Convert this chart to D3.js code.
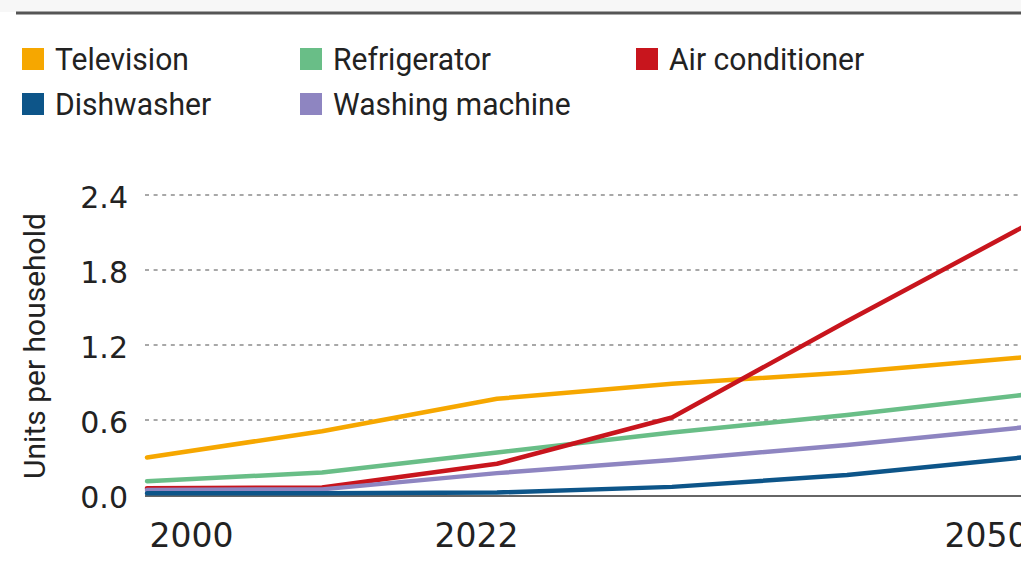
<!DOCTYPE html>
<html>
<head>
<meta charset="utf-8">
<script src="https://cdn.jsdelivr.net/npm/d3@7"></script>
<style>
  body { margin: 0; background: #fff; }
  svg { display: block; }
</style>
</head>
<body>
<svg id="chart"></svg>
<script>
// Data
var years = ["2000", "2010", "2022", "2030", "2040", "2050"];
var shownYears = ["2000", "2022", "2050"];
var yTicks = [0, 0.6, 1.2, 1.8, 2.4];

var television     = [0.30, 0.51, 0.77, 0.89, 0.98, 1.10];
var refrigerator   = [0.11, 0.18, 0.34, 0.50, 0.64, 0.80];
var airConditioner = [0.055, 0.06, 0.25, 0.62, 1.39, 2.14];
var washingMachine = [0.04, 0.045, 0.175, 0.28, 0.40, 0.54];
var dishwasher     = [0.015, 0.015, 0.02, 0.065, 0.16, 0.30];

var seriesNames = ["Television", "Refrigerator", "Air conditioner", "Dishwasher", "Washing machine"];
var seriesColors = ["#F6A700", "#69BE87", "#C8151D", "#0D5589", "#8E85C1"];

var width = 1021, height = 571;
var svg = d3.select("#chart").attr("width", width).attr("height", height);

var color = d3.scaleOrdinal().domain(seriesNames).range(seriesColors);

// top rule
svg.append("rect").attr("x", 0).attr("y", 0).attr("width", width).attr("height", 12).attr("fill", "#f7f7f7");
svg.append("line")
  .attr("x1", 16).attr("x2", width).attr("y1", 13).attr("y2", 13)
  .attr("stroke", "#555").attr("stroke-width", 3);

// Legend: two rows, three columns
var legendCols = [22, 300, 636];
var legendRows = [59, 104];
var legend = svg.selectAll(".legend")
  .data(seriesNames)
  .enter().append("g")
  .attr("class", "legend")
  .attr("transform", function(d, i) {
    return "translate(" + legendCols[i % 3] + "," + legendRows[Math.floor(i / 3)] + ")";
  });
legend.append("rect")
  .attr("x", 0).attr("y", -11).attr("width", 22).attr("height", 22)
  .attr("fill", function(d) { return color(d); });
legend.append("text")
  .attr("transform", "translate(33,0) scale(0.97,1)")
  .attr("dy", "0.36em")
  .style("font-family", "Roboto, 'Noto Sans', sans-serif")
  .style("font-size", "31px")
  .style("fill", "#222")
  .text(function(d) { return d; });

// Scales
var x = d3.scalePoint().domain(years).range([147, 1022]);
var y = d3.scaleLinear().domain([0, 2.4]).range([495, 195]);

// Gridlines
svg.append("g").selectAll("line")
  .data(yTicks.filter(function(d) { return d > 0; }))
  .enter().append("line")
  .attr("x1", 145).attr("x2", width)
  .attr("y1", function(d) { return y(d); })
  .attr("y2", function(d) { return y(d); })
  .attr("stroke", "#a8a8a8")
  .attr("stroke-width", 2)
  .attr("stroke-dasharray", "4,4.6");

// baseline
svg.append("line")
  .attr("x1", 145).attr("x2", width)
  .attr("y1", y(0) + 1).attr("y2", y(0) + 1)
  .attr("stroke", "#666").attr("stroke-width", 2);

// Y axis labels
var yAxis = d3.axisLeft(y).tickValues(yTicks).tickFormat(d3.format(".1f")).tickSize(0).tickPadding(0);
var yg = svg.append("g").attr("transform", "translate(128,0)").call(yAxis);
yg.select(".domain").remove();
yg.selectAll("text")
  .attr("dy", "0.4em")
  .style("font-family", "'DejaVu Sans', sans-serif")
  .style("font-size", "30px")
  .style("fill", "#222");

// Y title
svg.append("text")
  .attr("transform", "translate(45,346) rotate(-90)")
  .attr("text-anchor", "middle")
  .style("font-family", "Roboto, 'Noto Sans', sans-serif")
  .style("font-size", "30px")
  .style("fill", "#222")
  .text("Units per household");

// X labels
var xAxis = d3.axisBottom(x).tickValues(shownYears).tickSize(0).tickPadding(0);
var xg = svg.append("g").attr("transform", "translate(0,535)").call(xAxis);
xg.select(".domain").remove();
xg.selectAll("text")
  .attr("dy", "0.35em")
  .attr("text-anchor", function(d) { return d === "2000" ? "start" : (d === "2050" ? "end" : "middle"); })
  .attr("dx", function(d) { return d === "2000" ? 2 : (d === "2022" ? -21 : 6); })
  .style("font-family", "'DejaVu Sans', sans-serif")
  .style("font-size", "33px")
  .style("fill", "#222");

// Lines
var lineData = [
  { name: "Television", values: television },
  { name: "Refrigerator", values: refrigerator },
  { name: "Air conditioner", values: airConditioner },
  { name: "Washing machine", values: washingMachine },
  { name: "Dishwasher", values: dishwasher }
];

var line = d3.line()
  .x(function(d, i) { return x(years[i]); })
  .y(function(d) { return y(d); });

svg.append("g").selectAll("path")
  .data(lineData)
  .enter().append("path")
  .attr("d", function(d) { return line(d.values); })
  .attr("fill", "none")
  .attr("stroke", function(d) { return color(d.name); })
  .attr("stroke-width", 4.5)
  .attr("stroke-linejoin", "round")
  .attr("stroke-linecap", "round");
</script>
</body>
</html>
